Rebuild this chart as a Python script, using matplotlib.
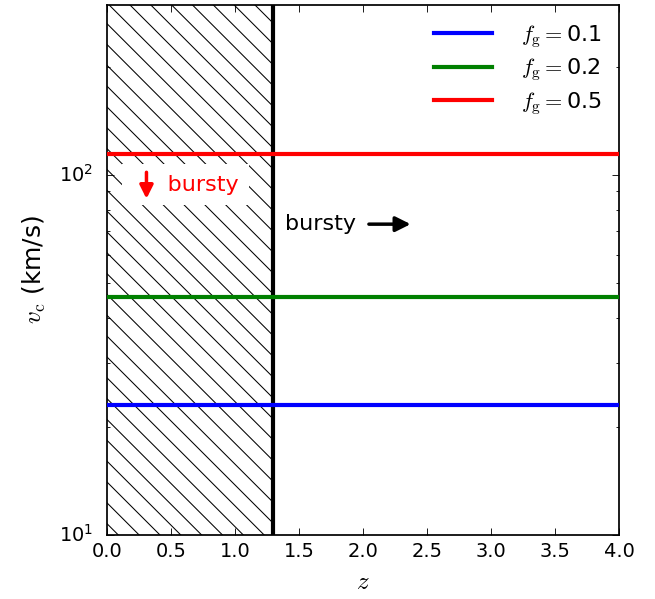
import numpy as np
import matplotlib
matplotlib.use("Agg")
import matplotlib.pyplot as plt

plt.style.use("classic")
plt.rcParams["hatch.linewidth"] = 0.6

# gas fractions and the corresponding critical circular velocities (km/s)
f_gas = [0.1, 0.2, 0.5]
v_crit = [22.9, 45.8, 114.5]
line_colors = ["blue", "green", "red"]

z_range = [0.0, 4.0]
z_burst = 1.3

fig = plt.figure(figsize=(5.24, 4.792), dpi=125)
ax = fig.add_axes([0.163, 0.107, 0.782, 0.885])

ax.axvspan(0.0, z_burst, fill=False, hatch="\\\\", edgecolor="black",
           linewidth=0, zorder=1)
ax.axvline(z_burst, color="black", lw=2.4, zorder=3)

for fg, vc, c in zip(f_gas, v_crit, line_colors):
    ax.plot(z_range, [vc, vc], color=c, lw=2.4,
            label=r"$f_{\rm g}=$" + f"{fg}", zorder=4)

ax.set_yscale("log")
ax.set_xlim(0, 4)
ax.set_ylim(10, 297)
ax.set_xticks(np.arange(0, 4.01, 0.5))
ax.tick_params(labelsize=11.2)
ax.tick_params(axis="y", which="major", pad=8)

ax.text(0.2, 94, "     bursty", color="red", fontsize=12.8, va="center",
        ha="left", zorder=5,
        bbox=dict(facecolor="white", edgecolor="none", pad=6))
ax.annotate("", xy=(0.31, 84), xytext=(0.31, 104),
            arrowprops=dict(arrowstyle="-|>", color="red", lw=2,
                            mutation_scale=16), zorder=6)

ax.text(1.39, 73, "bursty", color="black", fontsize=12.8, va="center",
        ha="left", zorder=5)
ax.annotate("", xy=(2.4, 73), xytext=(2.02, 73),
            arrowprops=dict(arrowstyle="-|>", color="black", lw=2,
                            mutation_scale=18), zorder=6)

ax.set_xlabel(r"$z$", fontsize=14.4)
ax.set_ylabel(r"$v_{\rm c}$ (km/s)", fontsize=14.4)
ax.yaxis.labelpad = 6

ax.legend(loc="upper right", frameon=False, fontsize=12.8, handlelength=3.2,
          labelspacing=0.3, borderaxespad=0.4, handletextpad=1.0)

fig.savefig("out.png", dpi=125)
